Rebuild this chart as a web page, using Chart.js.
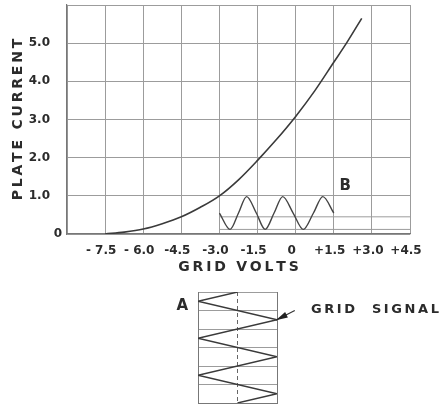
<!DOCTYPE html>
<html>
<head>
<meta charset="utf-8">
<script src="https://cdn.jsdelivr.net/npm/chart.js@4/dist/chart.umd.min.js"></script>
<style>
  html, body { margin: 0; padding: 0; background: #fff; }
  #wrap { position: relative; width: 446px; height: 405px; overflow: hidden; }
  #mainBox { position: absolute; left: 0; top: 0; width: 446px; height: 280px; }
  #insetBox { position: absolute; left: 168px; top: 285px; width: 278px; height: 120px; }
</style>
</head>
<body>
<div id="wrap">
  <div id="mainBox"><canvas id="mainChart"></canvas></div>
  <div id="insetBox"><canvas id="insetChart"></canvas></div>
</div>
<script>
// plate current curve
const curveVolts   = [-7.5, -6.75, -6.0, -5.25, -4.5, -3.75, -3.0, -2.25, -1.5, -0.75, 0, 0.75, 1.5, 2.0, 2.6];
const curveCurrent = [0, 0.05, 0.13, 0.27, 0.45, 0.7, 1.0, 1.42, 1.93, 2.48, 3.08, 3.75, 4.5, 5.0, 5.65];

// output wave "B"
const waveVolts   = [-3.0, -2.58, -2.25, -1.93, -1.55, -1.2, -0.85, -0.51, -0.1, 0.3, 0.7, 1.07, 1.5];
const waveCurrent = [0.55, 0.12, 0.55, 0.98, 0.55, 0.12, 0.55, 0.98, 0.55, 0.12, 0.55, 0.98, 0.55];

// short reference lines under the wave
const refLevels = [0.45, 0.12];
const refFrom = -3.0, refTo = 4.5;

const xTickLabels = ['', '- 7.5', '- 6.0', '-4.5', '-3.0', '-1.5', '0', '+1.5', '+3.0', '+4.5'];
const yTickLabels = ['0', '1.0', '2.0', '3.0', '4.0', '5.0', ''];

// grid signal "A" (swing left/right vs time going down)
const signalSwing = [0, -1, 1, -1, 1, -1, 1, 0];
const signalTime  = [0, 1, 3, 5, 7, 9, 11, 12];

// leader from the signal to its label
const leaderX = [0.97, 1.45, 1.8];
const leaderY = [3.05, 2.0, 1.9];

const ink = '#2b2b2b';
const gridColor = '#9c9c9c';
const fontFamily = '"DejaVu Sans", sans-serif';

const spaced = s => s.split('').join('\u2009');
const pts = (xs, ys) => xs.map((x, i) => ({ x, y: ys[i] }));

function notesPlugin(items, arrow) {
  return {
    id: 'notes',
    afterDatasetsDraw(chart) {
      const { ctx, scales: { x, y } } = chart;
      ctx.save();
      items.forEach(it => {
        ctx.font = it.font;
        ctx.fillStyle = ink;
        ctx.textAlign = it.align || 'center';
        ctx.textBaseline = 'middle';
        ctx.fillText(it.text, x.getPixelForValue(it.x), y.getPixelForValue(it.y));
      });
      if (arrow) {
        // arrow head at the start of the leader
        const tx = x.getPixelForValue(arrow.xs[0]), ty = y.getPixelForValue(arrow.ys[0]);
        const bx = x.getPixelForValue(arrow.xs[1]), by = y.getPixelForValue(arrow.ys[1]);
        const len = Math.hypot(bx - tx, by - ty);
        const ux = (bx - tx) / len, uy = (by - ty) / len;
        const hx = tx + ux * 12, hy = ty + uy * 12;
        ctx.fillStyle = '#222';
        ctx.beginPath();
        ctx.moveTo(tx, ty);
        ctx.lineTo(hx - uy * 3, hy + ux * 3);
        ctx.lineTo(hx + uy * 3, hy - ux * 3);
        ctx.closePath();
        ctx.fill();
      }
      ctx.restore();
    }
  };
}

const refSets = refLevels.map(lv => ({
  data: [{ x: refFrom, y: lv }, { x: refTo, y: lv }],
  showLine: true,
  borderColor: gridColor,
  borderWidth: 1,
  pointRadius: 0
}));

new Chart(document.getElementById('mainChart'), {
  type: 'scatter',
  data: {
    datasets: [
      {
        data: pts(curveVolts, curveCurrent),
        showLine: true,
        borderColor: '#3a3a3a',
        borderWidth: 1.6,
        pointRadius: 0,
        cubicInterpolationMode: 'monotone'
      },
      {
        data: pts(waveVolts, waveCurrent),
        showLine: true,
        borderColor: '#444',
        borderWidth: 1.4,
        pointRadius: 0,
        cubicInterpolationMode: 'monotone'
      },
      ...refSets
    ]
  },
  options: {
    responsive: true,
    maintainAspectRatio: false,
    animation: false,
    layout: { padding: { left: 6, top: 5, right: 36, bottom: 0 } },
    plugins: { legend: { display: false }, tooltip: { enabled: false } },
    scales: {
      x: {
        type: 'linear',
        min: -9, max: 4.5,
        ticks: {
          stepSize: 1.5,
          padding: 10,
          labelOffset: -4,
          color: ink,
          font: { family: fontFamily, size: 12, weight: 'bold' },
          callback: (v, i) => xTickLabels[i]
        },
        grid: { color: gridColor, lineWidth: 1, drawTicks: false },
        border: { color: '#777', width: 1.2 },
        title: {
          display: true,
          text: spaced('GRID VOLTS'),
          color: ink,
          font: { family: fontFamily, size: 14, weight: 'bold' }
        },
        afterFit(s) { s.height = 46; s.paddingLeft = 0; s.paddingRight = 0; }
      },
      y: {
        type: 'linear',
        min: 0, max: 6,
        ticks: {
          stepSize: 1,
          padding: 5,
          color: ink,
          font: { family: fontFamily, size: 12, weight: 'bold' },
          callback: (v, i) => v === 0 ? yTickLabels[i] : yTickLabels[i] + '\u2002\u2002'
        },
        grid: { color: gridColor, lineWidth: 1, drawTicks: false },
        border: { color: '#777', width: 1.2 },
        title: {
          display: true,
          text: spaced('PLATE CURRENT'),
          color: ink,
          font: { family: fontFamily, size: 14, weight: 'bold' }
        },
        afterFit(s) { s.width = 61; s.paddingTop = 0; s.paddingBottom = 0; }
      }
    }
  },
  plugins: [notesPlugin([
    { text: 'B', x: 1.95, y: 1.26, font: 'bold 15px ' + fontFamily }
  ])]
});

new Chart(document.getElementById('insetChart'), {
  type: 'scatter',
  data: {
    datasets: [
      {
        data: pts(signalSwing, signalTime),
        showLine: true,
        borderColor: '#3a3a3a',
        borderWidth: 1.4,
        pointRadius: 0
      },
      {
        data: [{ x: 0, y: 0 }, { x: 0, y: 12 }],
        showLine: true,
        borderColor: '#666',
        borderWidth: 1,
        borderDash: [4, 3],
        pointRadius: 0
      },
      {
        data: pts(leaderX, leaderY),
        showLine: true,
        borderColor: '#333',
        borderWidth: 1.2,
        pointRadius: 0,
        clip: false
      }
    ]
  },
  options: {
    responsive: true,
    maintainAspectRatio: false,
    animation: false,
    layout: { padding: { left: 30, top: 7, right: 169, bottom: 2 } },
    plugins: { legend: { display: false }, tooltip: { enabled: false } },
    scales: {
      x: {
        type: 'linear',
        min: -1, max: 1,
        ticks: { display: false, stepSize: 1 },
        grid: {
          drawTicks: false,
          lineWidth: 1,
          color: c => c.tick && c.tick.value === 0 ? 'rgba(0,0,0,0)' : '#777'
        },
        border: { color: '#777' },
        afterFit(s) { s.height = 0; s.paddingLeft = 0; s.paddingRight = 0; }
      },
      y: {
        type: 'linear',
        min: 0, max: 12,
        reverse: true,
        ticks: { display: false, stepSize: 2 },
        grid: { drawTicks: false, color: gridColor, lineWidth: 1 },
        border: { color: '#777' },
        afterFit(s) { s.width = 0; s.paddingTop = 0; s.paddingBottom = 0; }
      }
    }
  },
  plugins: [notesPlugin([
    { text: 'A', x: -1.4, y: 1.5, font: 'bold 15px ' + fontFamily },
    { text: spaced('GRID  SIGNAL'), x: 1.86, y: 1.95, align: 'left', font: 'bold 13px ' + fontFamily }
  ], { xs: leaderX, ys: leaderY })]
});
</script>
</body>
</html>
